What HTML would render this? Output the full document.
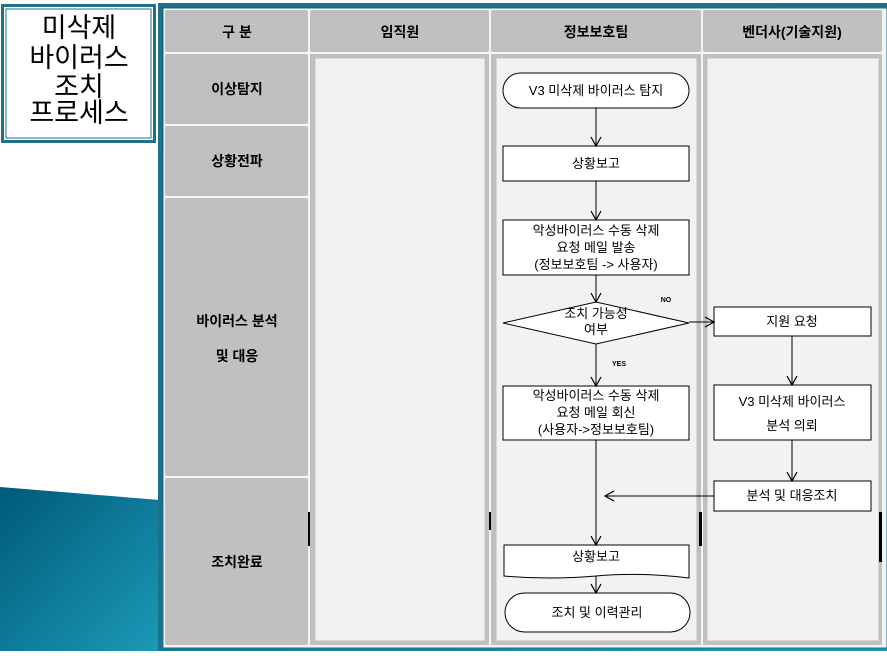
<!DOCTYPE html>
<html><head><meta charset="utf-8"><style>
body{margin:0;width:887px;height:651px;overflow:hidden;background:#fff;font-family:"Liberation Sans","Noto Sans CJK KR",sans-serif}
text{font-family:"Liberation Sans","Noto Sans CJK KR",sans-serif}
</style></head><body>
<svg width="887" height="651" viewBox="0 0 887 651" xmlns="http://www.w3.org/2000/svg">
<defs>
<linearGradient id="tg" x1="0" y1="0" x2="1" y2="1">
<stop offset="0" stop-color="#005a78"/><stop offset="1" stop-color="#1a9ab8"/></linearGradient>
<marker id="ar" markerWidth="12" markerHeight="12" refX="10" refY="6" orient="auto" markerUnits="userSpaceOnUse">
<path d="M1,1 L10,6 L1,11" fill="none" stroke="#000" stroke-width="1.2"/></marker>
</defs>
<polygon points="0,487 160,500 160,651 0,651" fill="url(#tg)"/>
<rect x="1" y="4" width="155" height="139" fill="#1f7088"/>
<rect x="4" y="7" width="149" height="133" fill="#fff"/>
<rect x="6" y="9" width="145" height="129" fill="none" stroke="#1f7088" stroke-width="1"/>
<g font-size="27" text-anchor="middle" fill="#000">
<text x="79" y="37">미삭제</text><text x="79" y="67">바이러스</text><text x="79" y="96">조치</text><text x="79" y="122">프로세스</text></g>
<rect x="158" y="3" width="729" height="648" fill="#1f7088"/>
<rect x="162" y="7" width="725" height="644" fill="url(#tg)"/>
<rect x="163" y="8" width="724" height="640" fill="#f4f4f4"/>
<rect x="163" y="8" width="724" height="640" fill="none" stroke="#1f7088" stroke-width="1"/>
<g fill="#c0c0c0">
<rect x="165" y="10" width="143" height="42" rx="2"/>
<rect x="310" y="10" width="179" height="42" rx="2"/>
<rect x="491" y="10" width="210" height="42" rx="2"/>
<rect x="703" y="10" width="179" height="42" rx="2"/>
<rect x="165" y="54" width="143" height="70" rx="2"/>
<rect x="165" y="126" width="143" height="70" rx="2"/>
<rect x="165" y="198" width="143" height="278" rx="2"/>
<rect x="165" y="478" width="143" height="167" rx="2"/>
<rect x="310" y="54" width="179" height="591"/>
<rect x="491" y="54" width="210" height="591"/>
<rect x="703" y="54" width="179" height="591"/>
</g>
<g fill="#f2f2f2" stroke="#d8d8d8">
<rect x="315.5" y="58.5" width="169" height="582"/>
<rect x="496.5" y="58.5" width="200" height="582"/>
<rect x="707.5" y="58.5" width="171" height="582"/>
</g>
<g fill="#000" font-size="14" font-weight="bold" text-anchor="middle">
<text x="237" y="37">구 분</text><text x="400" y="37">임직원</text><text x="596" y="37">정보보호팀</text><text x="792" y="37">벤더사(기술지원)</text>
<text x="237" y="94">이상탐지</text><text x="237" y="166">상황전파</text>
<text x="237" y="326">바이러스 분석</text><text x="237" y="361">및 대응</text>
<text x="237" y="567">조치완료</text></g>
<g fill="#000"><rect x="308" y="512" width="2" height="34"/><rect x="489" y="512" width="2" height="18"/><rect x="699" y="512" width="3" height="34"/><rect x="879" y="512" width="3" height="50"/></g>
<g fill="#fff" stroke="#000" stroke-width="1">
<rect x="503" y="73" width="186" height="35" rx="17.5"/>
<rect x="503" y="146" width="186" height="35"/>
<rect x="503" y="220" width="186" height="55"/>
<polygon points="503,323 596,302 689,323 596,344"/>
<rect x="503" y="386" width="186" height="54"/>
<path d="M504,545 H689 V578 Q640,572 596,576 Q550,580 504,576 Z"/>
<rect x="505" y="593" width="185" height="39" rx="19.5"/>
<rect x="714" y="307" width="157" height="29"/>
<rect x="714" y="385" width="157" height="55"/>
<rect x="714" y="481" width="157" height="30"/>
</g>
<g stroke="#000" stroke-width="1" fill="none" marker-end="url(#ar)">
<line x1="596" y1="108" x2="596" y2="146"/>
<line x1="596" y1="181" x2="596" y2="220"/>
<line x1="596" y1="275" x2="596" y2="302"/>
<line x1="596" y1="344" x2="596" y2="386"/>
<line x1="596" y1="440" x2="596" y2="545"/>
<line x1="596" y1="576" x2="596" y2="593"/>
<line x1="689" y1="322" x2="714" y2="322"/>
<line x1="792" y1="336" x2="792" y2="385"/>
<line x1="792" y1="440" x2="792" y2="481"/>
<line x1="714" y1="496" x2="605" y2="496"/>
</g>
<g fill="#000" font-size="13" text-anchor="middle">
<text x="596" y="95">V3 미삭제 바이러스 탐지</text>
<text x="596" y="168">상황보고</text>
<text x="596" y="235">악성바이러스 수동 삭제</text><text x="596" y="252">요청 메일 발송</text><text x="596" y="269">(정보보호팀 -&gt; 사용자)</text>
<text x="596" y="318">조치 가능성</text><text x="596" y="334">여부</text>
<text x="596" y="400">악성바이러스 수동 삭제</text><text x="596" y="417">요청 메일 회신</text><text x="596" y="434">(사용자-&gt;정보보호팀)</text>
<text x="596" y="561">상황보고</text>
<text x="597" y="617">조치 및 이력관리</text>
<text x="792" y="326">지원 요청</text>
<text x="792" y="406">V3 미삭제 바이러스</text><text x="792" y="430">분석 의뢰</text>
<text x="792" y="500">분석 및 대응조치</text>
<text x="666" y="302" font-size="7" font-weight="bold">NO</text>
<text x="619" y="366" font-size="7" font-weight="bold">YES</text>
</g>
</svg>
</body></html>
